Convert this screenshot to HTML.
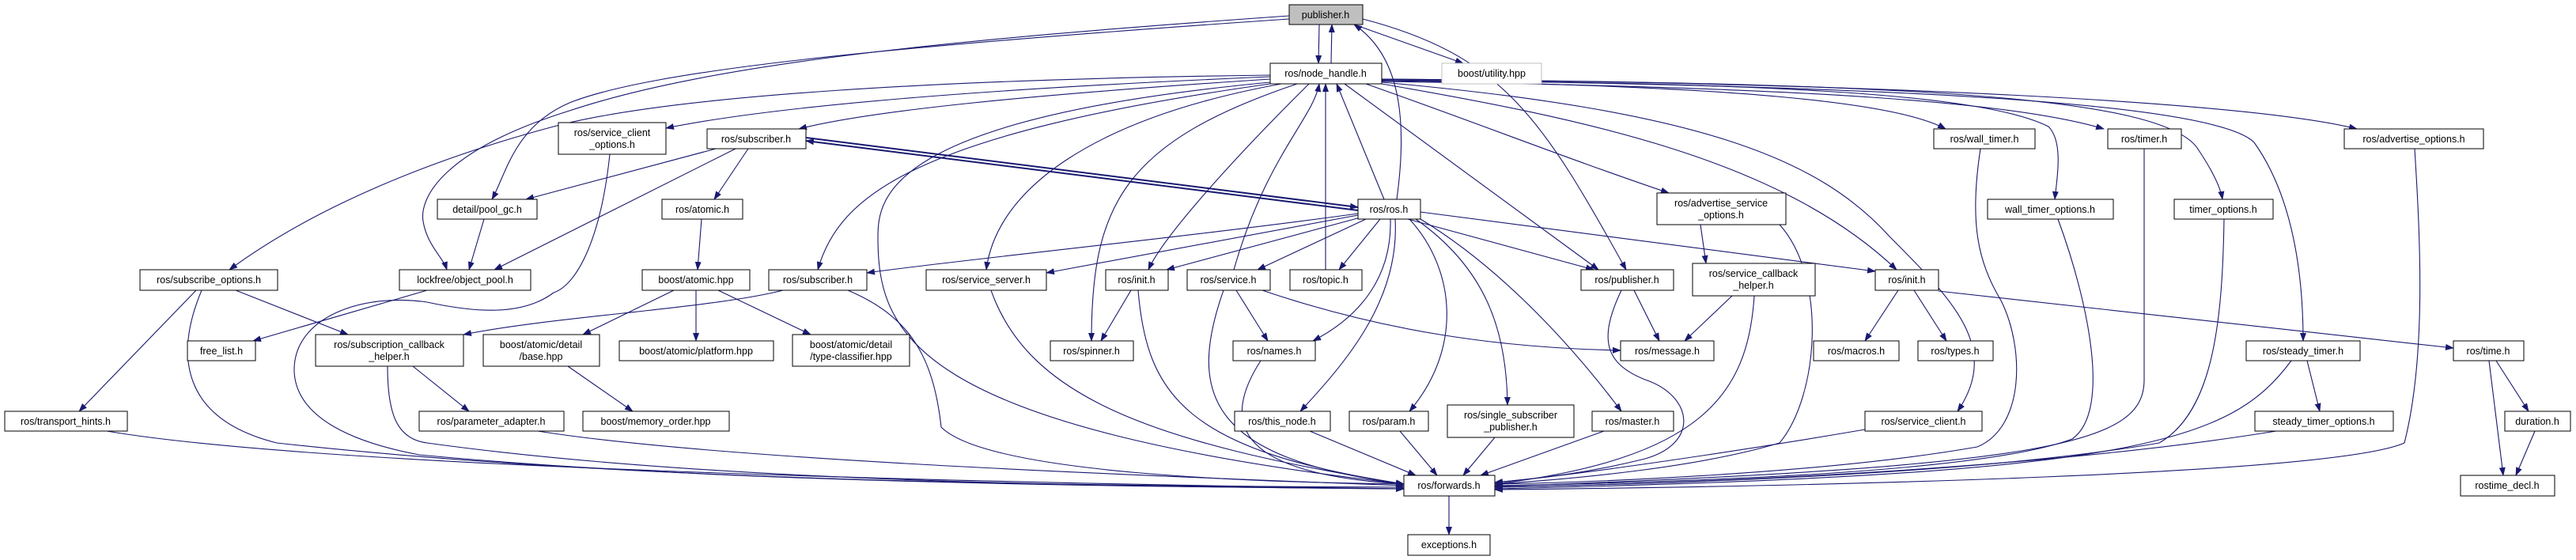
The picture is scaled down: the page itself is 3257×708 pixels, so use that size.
<!DOCTYPE html>
<html><head><meta charset="utf-8"><style>
html,body{margin:0;padding:0;background:#fff;}
svg{display:block;}
text{font-family:"Liberation Sans",sans-serif;font-size:12.5px;fill:#000;text-anchor:middle;}
.n{fill:#fff;stroke:#000;stroke-width:1;}
.e{fill:none;stroke:#191970;stroke-width:1.1;}
</style></head><body>
<svg width="3257" height="708" viewBox="0 0 3257 708" xmlns="http://www.w3.org/2000/svg">
<defs><marker id="a" markerWidth="11" markerHeight="8" refX="10" refY="4" orient="auto" markerUnits="userSpaceOnUse"><path d="M0,0 L11,4 L0,8 z" fill="#191970"/></marker></defs>
<g class="e" marker-end="url(#a)">
<path d="M1668,31 L1667,80"/>
<path d="M1683,80 L1684,31"/>
<path d="M1766,252 C1780,150 1770,70 1712,31"/>
<path d="M1712,31 L1850,80"/>
<path d="M1723,24 C1900,70 1950,150 2056,341"/>
<path d="M1630,20 C1200,50 900,80 720,140 C560,190 530,250 535,280 C540,310 560,325 565,341"/>
<path d="M1630,24 C1100,60 820,90 720,130 C650,160 640,220 622,252"/>
<path d="M1606,97 C1300,110 1000,130 842,162"/>
<path d="M1606,100 C1300,120 1100,140 1010,163"/>
<path d="M1606,95 C1200,100 850,120 700,160 C550,200 400,260 290,341"/>
<path d="M1620,106 C1380,150 1260,240 1247,341"/>
<path d="M1606,106 C1150,170 1060,250 1034,341"/>
<path d="M1640,106 C1420,180 1380,260 1380,431"/>
<path d="M1655,106 C1560,200 1470,300 1452,341"/>
<path d="M1700,106 L2021,341"/>
<path d="M1727,106 C1880,160 1980,200 2110,244"/>
<path d="M1747,106 C2000,150 2250,200 2398,341"/>
<path d="M1747,104 C2150,140 2300,200 2390,300 C2470,380 2530,440 2475,520"/>
<path d="M1747,102 C2200,108 2400,130 2460,163"/>
<path d="M1747,101 C2200,105 2500,115 2590,160 C2610,180 2600,230 2598,252"/>
<path d="M1747,103 C2300,110 2550,130 2660,163"/>
<path d="M1747,100 C2400,105 2740,120 2780,190 C2800,220 2808,240 2810,252"/>
<path d="M1747,101 C2400,108 2800,130 2850,180 C2900,250 2912,350 2912,431"/>
<path d="M1747,100 C2400,105 2850,130 2980,163"/>
<path d="M1606,104 C1120,150 1110,250 1110,300 C1110,420 1150,540 1775,612"/>
<path d="M1019,174 L1717,262" stroke-width="2"/>
<path d="M1717,266 L1019,178" stroke-width="2"/>
<path d="M1750,252 L1690,106"/>
<path d="M1560,341 C1600,200 1660,150 1668,106"/>
<path d="M1676,341 L1676,106"/>
<path d="M1717,270 C1500,300 1200,330 1096,345"/>
<path d="M1717,272 L1323,345"/>
<path d="M1720,275 L1475,341"/>
<path d="M1727,277 L1590,341"/>
<path d="M1745,277 L1693,341"/>
<path d="M1780,277 L2015,341"/>
<path d="M1796,268 L2371,343"/>
<path d="M1758,277 C1760,350 1720,400 1660,431"/>
<path d="M1764,277 C1770,380 1700,460 1644,520"/>
<path d="M1782,277 C1840,340 1850,440 1782,520"/>
<path d="M1790,277 C1880,340 1905,420 1906,512"/>
<path d="M1796,277 C1900,340 1990,440 2050,520"/>
<path d="M905,188 L665,252"/>
<path d="M930,188 L625,341"/>
<path d="M946,188 L903,252"/>
<path d="M612,277 L593,341"/>
<path d="M540,367 L320,431"/>
<path d="M887,277 L882,341"/>
<path d="M852,367 L737,423"/>
<path d="M880,367 L880,431"/>
<path d="M908,367 L1025,423"/>
<path d="M718,463 L800,520"/>
<path d="M771,195 C760,300 730,360 700,370 C660,400 600,395 540,382 C460,370 370,400 372,470 C375,530 450,560 530,575 C900,610 1400,615 1775,618"/>
<path d="M248,367 L100,520"/>
<path d="M298,367 L440,423"/>
<path d="M255,367 C220,450 230,530 350,560 C800,610 1400,615 1775,616"/>
<path d="M990,367 C900,390 700,400 586,423"/>
<path d="M1072,367 C1150,400 1180,450 1190,540 C1250,600 1600,610 1775,612"/>
<path d="M522,463 L593,520"/>
<path d="M490,463 C490,520 500,555 540,560 C900,610 1400,615 1775,618"/>
<path d="M680,545 C900,580 1400,600 1775,614"/>
<path d="M135,545 C400,590 1200,610 1775,618"/>
<path d="M1253,367 C1300,500 1450,560 1775,612"/>
<path d="M1430,367 L1392,431"/>
<path d="M1439,367 C1450,500 1500,570 1775,612"/>
<path d="M1563,367 L1603,431"/>
<path d="M1590,365 C1750,420 1900,440 2049,443"/>
<path d="M1547,367 C1500,500 1530,580 1775,612"/>
<path d="M1594,456 C1540,540 1570,600 1775,612"/>
<path d="M1656,545 L1790,601"/>
<path d="M1770,545 L1817,601"/>
<path d="M1890,553 L1850,601"/>
<path d="M2028,545 L1872,601"/>
<path d="M2066,367 L2098,431"/>
<path d="M2050,367 C2020,430 2030,460 2080,480 C2140,500 2150,560 2080,580 C2000,600 1940,605 1890,610"/>
<path d="M2190,374 L2130,431"/>
<path d="M2218,374 C2210,500 2150,580 1890,612"/>
<path d="M2150,284 L2157,333"/>
<path d="M2250,284 C2310,350 2300,500 2250,560 C2150,590 2000,605 1890,612"/>
<path d="M2400,367 L2358,431"/>
<path d="M2420,367 L2461,431"/>
<path d="M2451,368 L3102,440"/>
<path d="M3147,456 L3165,601"/>
<path d="M3156,456 L3197,520"/>
<path d="M3205,545 L3181,601"/>
<path d="M2917,456 L2933,520"/>
<path d="M2897,456 C2820,560 2700,600 1890,618"/>
<path d="M2878,545 C2600,590 2200,610 1890,616"/>
<path d="M2358,543 C2200,570 2000,600 1890,610"/>
<path d="M2504,188 C2490,280 2500,330 2530,380 C2560,440 2560,540 2500,565 C2300,600 2000,610 1890,612"/>
<path d="M2602,277 C2640,380 2670,520 2620,555 C2500,600 2100,610 1890,614"/>
<path d="M2711,188 L2711,480 C2711,560 2600,590 1890,615"/>
<path d="M2812,277 C2810,400 2800,520 2730,560 C2500,600 2100,612 1890,616"/>
<path d="M3053,188 C3060,300 3068,450 3040,560 C2950,600 2300,615 1890,619"/>
<path d="M1832,627 L1832,676"/>
</g>
<g>
<rect class="n" x="1630" y="6" width="93" height="25" style="fill:#bfbfbf"/><text x="1676" y="23">publisher.h</text>
<rect class="n" x="1606" y="80" width="141" height="26"/><text x="1676" y="97">ros/node_handle.h</text>
<rect class="n" x="1823" y="80" width="126" height="26" style="stroke:#bfbfbf"/><text x="1886" y="97">boost/utility.hpp</text>
<rect class="n" x="706" y="155" width="136" height="40"/><text x="774" y="172">ros/service_client</text><text x="774" y="187">_options.h</text>
<rect class="n" x="894" y="163" width="125" height="25"/><text x="956" y="180">ros/subscriber.h</text>
<rect class="n" x="553" y="252" width="126" height="25"/><text x="616" y="269">detail/pool_gc.h</text>
<rect class="n" x="837" y="252" width="102" height="25"/><text x="888" y="269">ros/atomic.h</text>
<rect class="n" x="1717" y="252" width="79" height="25"/><text x="1756" y="269">ros/ros.h</text>
<rect class="n" x="2095" y="244" width="163" height="40"/><text x="2176" y="261">ros/advertise_service</text><text x="2176" y="276">_options.h</text>
<rect class="n" x="2445" y="163" width="128" height="25"/><text x="2509" y="180">ros/wall_timer.h</text>
<rect class="n" x="2665" y="163" width="93" height="25"/><text x="2711" y="180">ros/timer.h</text>
<rect class="n" x="2964" y="163" width="176" height="25"/><text x="3052" y="180">ros/advertise_options.h</text>
<rect class="n" x="2513" y="252" width="159" height="25"/><text x="2592" y="269">wall_timer_options.h</text>
<rect class="n" x="2749" y="252" width="125" height="25"/><text x="2811" y="269">timer_options.h</text>
<rect class="n" x="177" y="341" width="174" height="26"/><text x="264" y="358">ros/subscribe_options.h</text>
<rect class="n" x="505" y="341" width="166" height="26"/><text x="588" y="358">lockfree/object_pool.h</text>
<rect class="n" x="812" y="341" width="136" height="26"/><text x="880" y="358">boost/atomic.hpp</text>
<rect class="n" x="972" y="341" width="124" height="26"/><text x="1034" y="358">ros/subscriber.h</text>
<rect class="n" x="1171" y="341" width="152" height="26"/><text x="1247" y="358">ros/service_server.h</text>
<rect class="n" x="1398" y="341" width="79" height="26"/><text x="1437" y="358">ros/init.h</text>
<rect class="n" x="1501" y="341" width="105" height="26"/><text x="1553" y="358">ros/service.h</text>
<rect class="n" x="1631" y="341" width="91" height="26"/><text x="1676" y="358">ros/topic.h</text>
<rect class="n" x="1999" y="341" width="117" height="26"/><text x="2057" y="358">ros/publisher.h</text>
<rect class="n" x="2140" y="333" width="155" height="41"/><text x="2217" y="350">ros/service_callback</text><text x="2217" y="365">_helper.h</text>
<rect class="n" x="2371" y="341" width="80" height="26"/><text x="2411" y="358">ros/init.h</text>
<rect class="n" x="237" y="431" width="86" height="25"/><text x="280" y="448">free_list.h</text>
<rect class="n" x="399" y="423" width="187" height="40"/><text x="492" y="440">ros/subscription_callback</text><text x="492" y="455">_helper.h</text>
<rect class="n" x="611" y="423" width="147" height="40"/><text x="684" y="440">boost/atomic/detail</text><text x="684" y="455">/base.hpp</text>
<rect class="n" x="783" y="431" width="195" height="25"/><text x="880" y="448">boost/atomic/platform.hpp</text>
<rect class="n" x="1002" y="423" width="148" height="40"/><text x="1076" y="440">boost/atomic/detail</text><text x="1076" y="455">/type-classifier.hpp</text>
<rect class="n" x="1328" y="431" width="105" height="25"/><text x="1380" y="448">ros/spinner.h</text>
<rect class="n" x="1559" y="431" width="104" height="25"/><text x="1611" y="448">ros/names.h</text>
<rect class="n" x="2049" y="431" width="118" height="25"/><text x="2108" y="448">ros/message.h</text>
<rect class="n" x="2293" y="431" width="108" height="25"/><text x="2347" y="448">ros/macros.h</text>
<rect class="n" x="2425" y="431" width="95" height="25"/><text x="2472" y="448">ros/types.h</text>
<rect class="n" x="2840" y="431" width="144" height="25"/><text x="2912" y="448">ros/steady_timer.h</text>
<rect class="n" x="3102" y="431" width="89" height="25"/><text x="3146" y="448">ros/time.h</text>
<rect class="n" x="6" y="520" width="155" height="25"/><text x="83" y="537">ros/transport_hints.h</text>
<rect class="n" x="530" y="520" width="183" height="25"/><text x="621" y="537">ros/parameter_adapter.h</text>
<rect class="n" x="737" y="520" width="185" height="25"/><text x="829" y="537">boost/memory_order.hpp</text>
<rect class="n" x="1561" y="520" width="121" height="25"/><text x="1621" y="537">ros/this_node.h</text>
<rect class="n" x="1706" y="520" width="100" height="25"/><text x="1756" y="537">ros/param.h</text>
<rect class="n" x="1830" y="512" width="160" height="41"/><text x="1910" y="529">ros/single_subscriber</text><text x="1910" y="544">_publisher.h</text>
<rect class="n" x="2013" y="520" width="103" height="25"/><text x="2064" y="537">ros/master.h</text>
<rect class="n" x="2358" y="520" width="148" height="25"/><text x="2432" y="537">ros/service_client.h</text>
<rect class="n" x="2851" y="520" width="175" height="25"/><text x="2938" y="537">steady_timer_options.h</text>
<rect class="n" x="3167" y="520" width="83" height="25"/><text x="3208" y="537">duration.h</text>
<rect class="n" x="1775" y="601" width="115" height="26"/><text x="1832" y="618">ros/forwards.h</text>
<rect class="n" x="3111" y="601" width="119" height="26"/><text x="3170" y="618">rostime_decl.h</text>
<rect class="n" x="1780" y="676" width="104" height="26"/><text x="1832" y="693">exceptions.h</text>
</g>
</svg>
</body></html>
